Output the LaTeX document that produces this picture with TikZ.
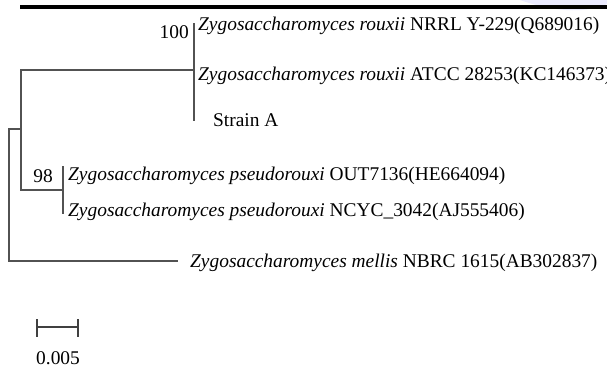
\documentclass[tikz,border=0pt]{standalone}
\usepackage{fontspec}
\setmainfont{Liberation Serif}
\begin{document}
\begin{tikzpicture}[x=1pt,y=-1pt,
  branch/.style={draw=black!68, line width=1.3pt, line cap=rect},
  tick/.style={draw=black!75, line width=1.3pt},
  leaf/.style={anchor=base west, inner sep=0pt, font=\fontsize{19.4}{23}\selectfont},
  boot/.style={anchor=base east, inner sep=0pt, font=\fontsize{19.4}{23}\selectfont},
  topbar/.style={draw=black, line width=4pt}]
\useasboundingbox (0,0) rectangle (607,367);
% faint watermark
\fill[blue!8] (520,0) .. controls (560,14) and (590,12) .. (607,4) -- (607,0) -- cycle;
% top rule
\coordinate (tb1) at (20,7);
\coordinate (tb2) at (607,7);
\draw[topbar] (tb1) -- (tb2);
% tree coordinates
\coordinate (r1) at (9,129);
\coordinate (r2) at (9,261);
\coordinate (m) at (21,129);
\coordinate (a1) at (21,70);
\coordinate (a2) at (21,190);
\coordinate (c1) at (194,24);
\coordinate (c0) at (194,70);
\coordinate (c2) at (194,120);
\coordinate (p0) at (63,190);
\coordinate (p1) at (63,167);
\coordinate (p2) at (63,213);
\coordinate (mEnd) at (177,261);
\draw[branch] (r1) -- (r2) -- (mEnd);
\draw[branch] (r1) -- (m);
\draw[branch] (a1) -- (a2);
\draw[branch] (a1) -- (c0);
\draw[branch] (c1) -- (c2);
\draw[branch] (a2) -- (p0);
\draw[branch] (p1) -- (p2);
% labels
\node[leaf] (nrrl) at (198,30) {\textit{Zygosaccharomyces rouxii} NRRL Y-229(Q689016)};
\node[boot] (b100) at (189,38) {100};
\node[leaf] (atcc) at (198,80) {\textit{Zygosaccharomyces rouxii} ATCC 28253(KC146373)};
\node[leaf] (strain) at (213,126) {Strain A};
\node[boot] (b98) at (53,182) {98};
\node[leaf] (out) at (68,180) {\textit{Zygosaccharomyces pseudorouxi} OUT7136(HE664094)};
\node[leaf] (ncyc) at (68,216) {\textit{Zygosaccharomyces pseudorouxi} NCYC\_3042(AJ555406)};
\node[leaf] (mel) at (190,267) {\textit{Zygosaccharomyces mellis} NBRC 1615(AB302837)};
% scale bar
\coordinate (s1) at (37,327);
\coordinate (s2) at (78,327);
\coordinate (s1t) at (37,319);
\coordinate (s1b) at (37,337);
\coordinate (s2t) at (78,319);
\coordinate (s2b) at (78,337);
\draw[tick] (s1) -- (s2);
\draw[tick] (s1t) -- (s1b);
\draw[tick] (s2t) -- (s2b);
\node[leaf] (scale) at (36,364) {0.005};
\end{tikzpicture}
\end{document}
